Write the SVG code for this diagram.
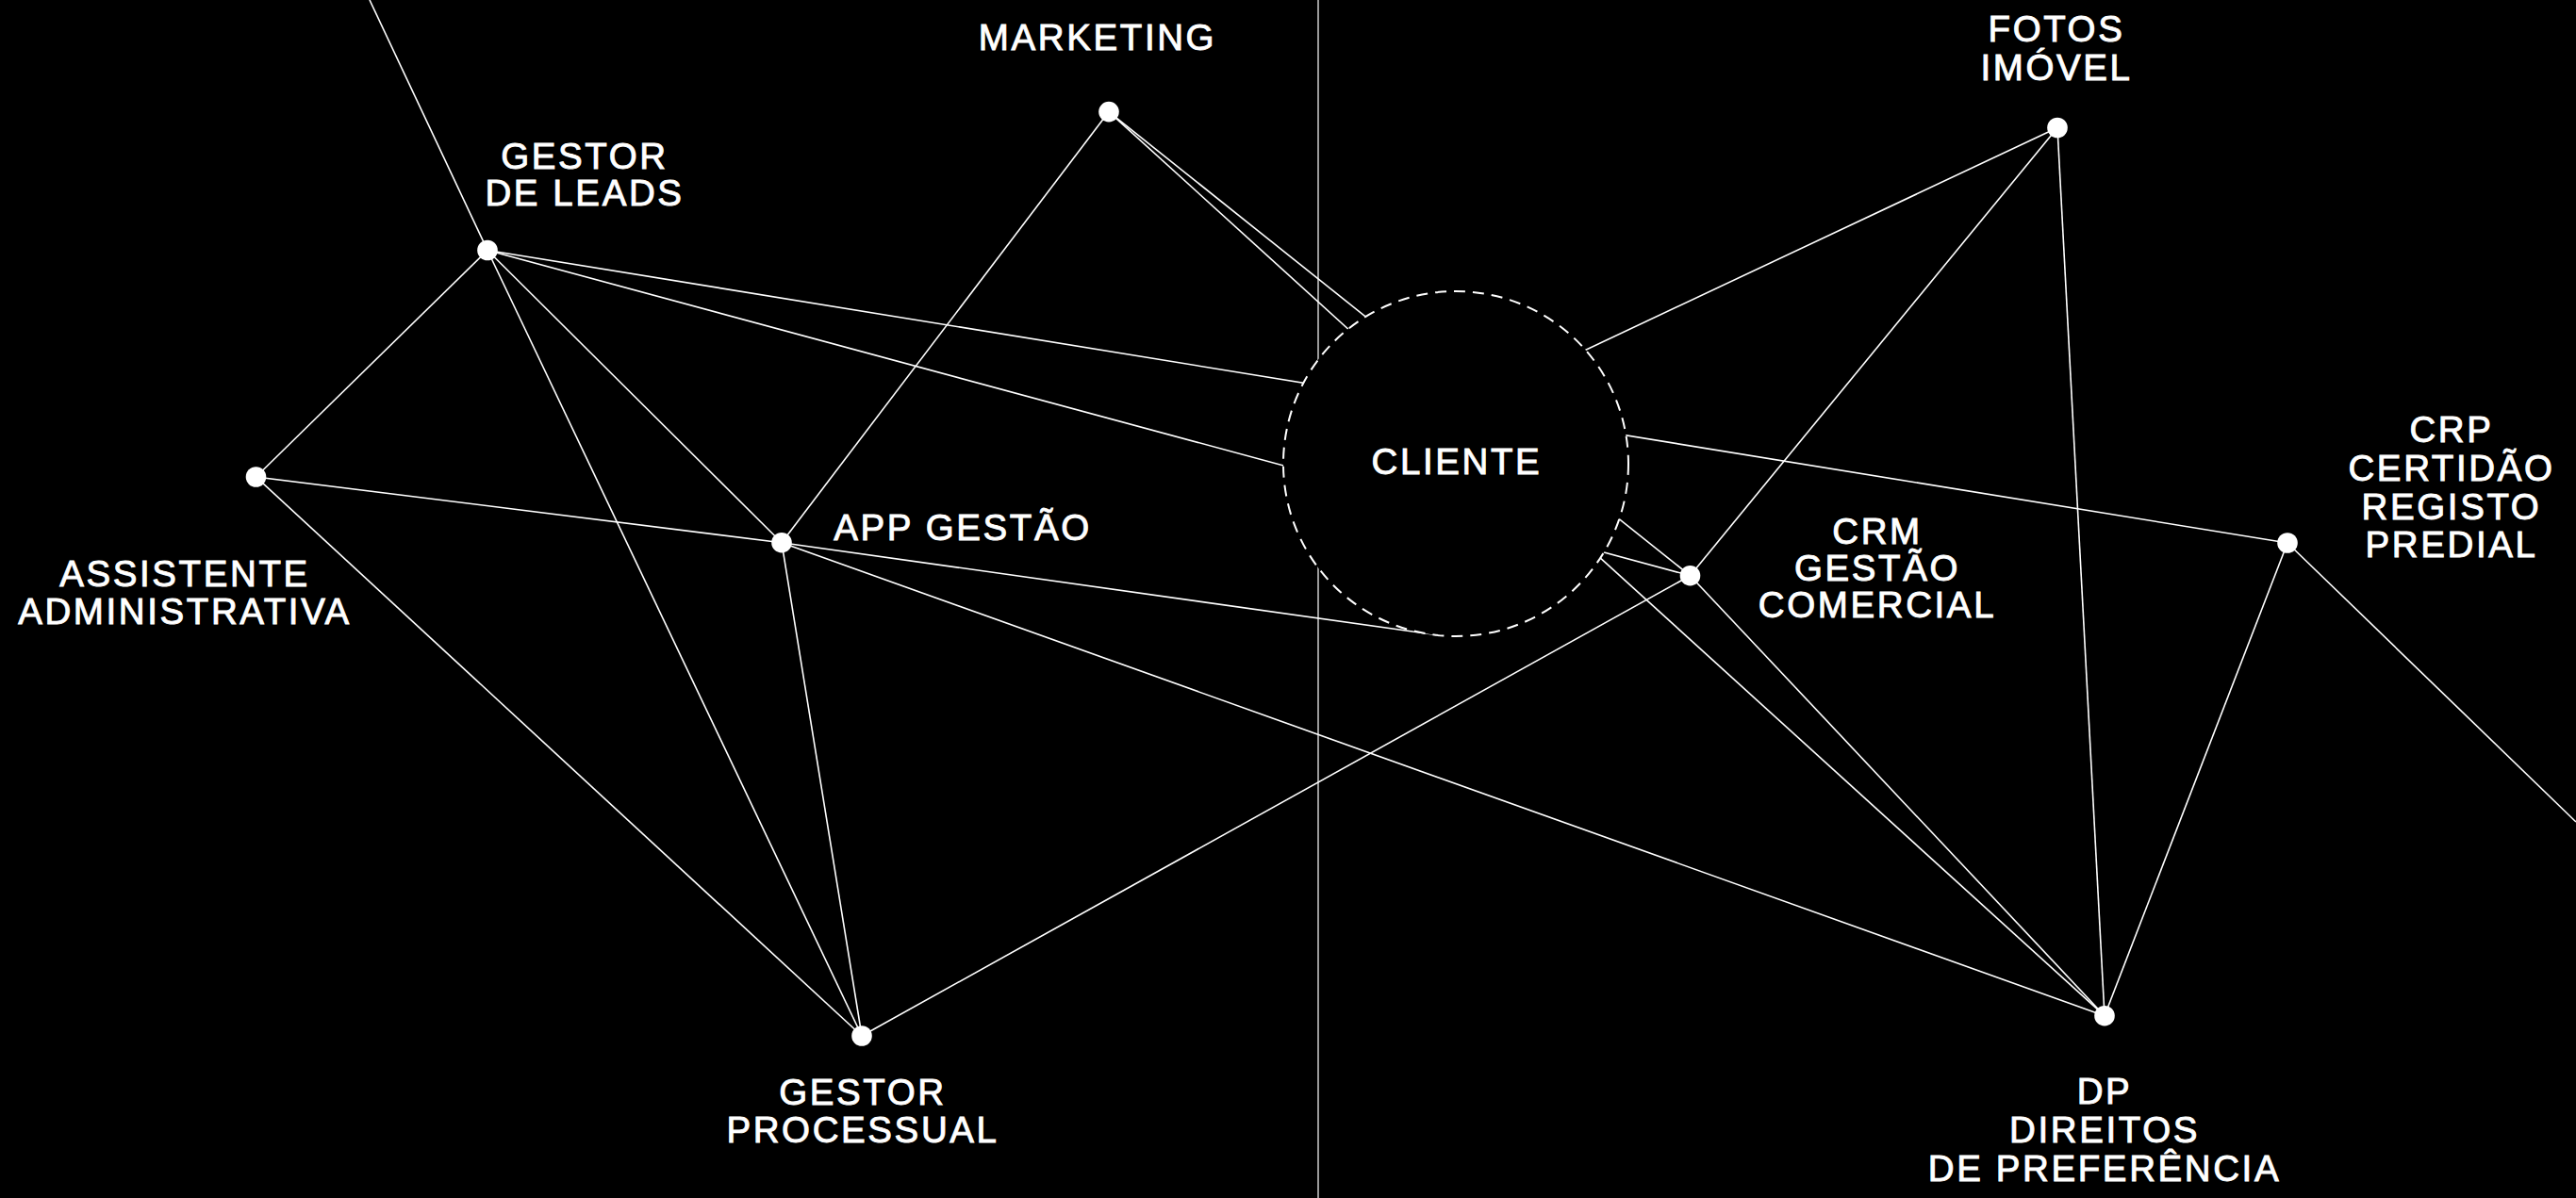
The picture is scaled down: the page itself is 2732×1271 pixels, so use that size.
<svg xmlns="http://www.w3.org/2000/svg" width="2732" height="1271" viewBox="0 0 2732 1271">
  <style>
    .bg { fill: #000000; }
    .divider { stroke: #9a9a9a; stroke-width: 2; }
    .link { stroke: #ffffff; stroke-width: 1.6; fill: none; }
    .dot { fill: #ffffff; }
    .client { fill: #000000; stroke: #ffffff; stroke-width: 2; stroke-dasharray: 12 8; }
    .label { fill: #ffffff; stroke: #ffffff; stroke-width: 0.9px; font-family: "Liberation Sans", Arial, sans-serif; font-size: 38.5px; letter-spacing: 2.6px; text-anchor: middle; }
  </style>
  <rect class="bg" x="0" y="0" width="2732" height="1271"/>

  <g id="divider">
    <line class="divider" x1="1398" y1="0" x2="1398" y2="1271"/>
  </g>

  <g id="connectors">
    <line class="link" x1="392" y1="0" x2="517" y2="265.5"/>
    <line class="link" x1="517" y1="265.5" x2="271.5" y2="506"/>
    <line class="link" x1="517" y1="265.5" x2="829" y2="575.7"/>
    <line class="link" x1="517" y1="265.5" x2="914" y2="1099"/>
    <line class="link" x1="517" y1="265.5" x2="2426" y2="576"/>
    <line class="link" x1="517" y1="265.5" x2="1792.5" y2="610.7"/>
    <line class="link" x1="1176" y1="118.6" x2="829" y2="575.7"/>
    <line class="link" x1="1176" y1="118.6" x2="1792.5" y2="610.7"/>
    <line class="link" x1="1176" y1="118.6" x2="2232" y2="1077.7"/>
    <line class="link" x1="271.5" y1="506" x2="829" y2="575.7"/>
    <line class="link" x1="271.5" y1="506" x2="914" y2="1099"/>
    <line class="link" x1="829" y1="575.7" x2="914" y2="1099"/>
    <line class="link" x1="829" y1="575.7" x2="2232" y2="1077.7"/>
    <line class="link" x1="829" y1="575.7" x2="1523" y2="673.5"/>
    <line class="link" x1="914" y1="1099" x2="1792.5" y2="610.7"/>
    <line class="link" x1="2182" y1="135.5" x2="1650" y2="386.2"/>
    <line class="link" x1="2182" y1="135.5" x2="1792.5" y2="610.7"/>
    <line class="link" x1="2182" y1="135.5" x2="2232" y2="1077.7"/>
    <line class="link" x1="2426" y1="576" x2="2232" y2="1077.7"/>
    <line class="link" x1="2426" y1="576" x2="2732" y2="872"/>
    <line class="link" x1="1792.5" y1="610.7" x2="2232" y2="1077.7"/>
  </g>

  <g id="cliente">
    <circle class="client" cx="1544" cy="492" r="183"/>
    <text class="label" x="1545" y="503">CLIENTE</text>
  </g>

  <g id="gestor-de-leads">
    <circle class="dot" cx="517" cy="265.5" r="10.8"/>
    <text class="label" x="620" y="179">GESTOR</text>
    <text class="label" x="620" y="218">DE LEADS</text>
  </g>

  <g id="marketing">
    <circle class="dot" cx="1176" cy="118.6" r="10.8"/>
    <text class="label" x="1164" y="53">MARKETING</text>
  </g>

  <g id="assistente-administrativa">
    <circle class="dot" cx="271.5" cy="506" r="10.8"/>
    <text class="label" x="196" y="622">ASSISTENTE</text>
    <text class="label" x="196" y="662">ADMINISTRATIVA</text>
  </g>

  <g id="app-gestao">
    <circle class="dot" cx="829" cy="575.7" r="10.8"/>
    <text class="label" x="1021" y="573">APP GESTÃO</text>
  </g>

  <g id="gestor-processual">
    <circle class="dot" cx="914" cy="1099" r="10.8"/>
    <text class="label" x="915" y="1172">GESTOR</text>
    <text class="label" x="915" y="1212">PROCESSUAL</text>
  </g>

  <g id="crm-gestao-comercial">
    <circle class="dot" cx="1792.5" cy="610.7" r="10.8"/>
    <text class="label" x="1991" y="577">CRM</text>
    <text class="label" x="1991" y="616">GESTÃO</text>
    <text class="label" x="1991" y="655">COMERCIAL</text>
  </g>

  <g id="fotos-imovel">
    <circle class="dot" cx="2182" cy="135.5" r="10.8"/>
    <text class="label" x="2181" y="44">FOTOS</text>
    <text class="label" x="2181" y="85">IMÓVEL</text>
  </g>

  <g id="crp-certidao-registo-predial">
    <circle class="dot" cx="2426" cy="576" r="10.8"/>
    <text class="label" x="2600" y="469">CRP</text>
    <text class="label" x="2600" y="510">CERTIDÃO</text>
    <text class="label" x="2600" y="551">REGISTO</text>
    <text class="label" x="2600" y="591">PREDIAL</text>
  </g>

  <g id="dp-direitos-de-preferencia">
    <circle class="dot" cx="2232" cy="1077.7" r="10.8"/>
    <text class="label" x="2232" y="1171">DP</text>
    <text class="label" x="2232" y="1212">DIREITOS</text>
    <text class="label" x="2232" y="1253">DE PREFERÊNCIA</text>
  </g>
</svg>
